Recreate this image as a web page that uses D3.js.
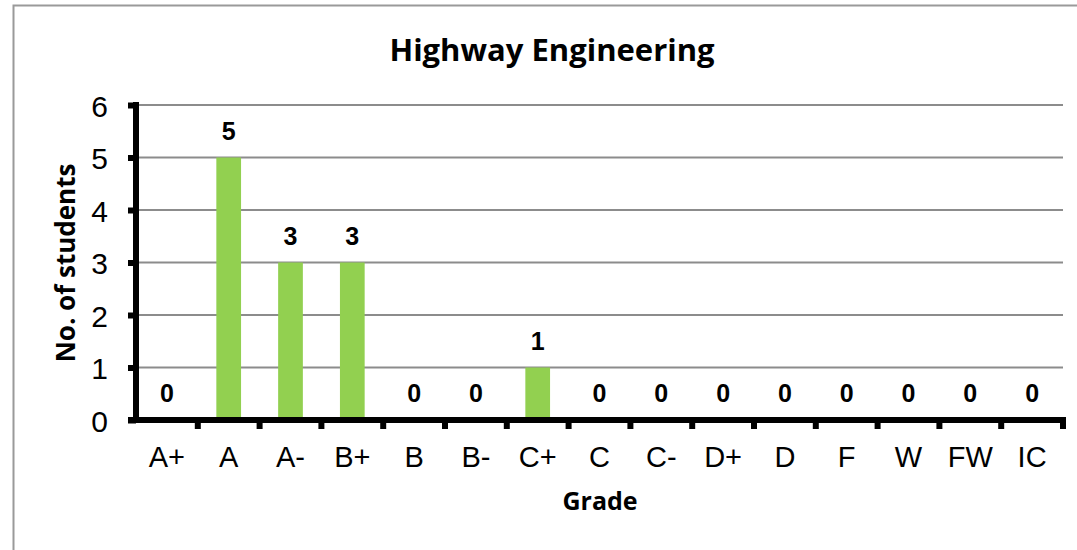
<!DOCTYPE html>
<html><head><meta charset="utf-8">
<script src="https://cdn.jsdelivr.net/npm/d3@7"></script>
<style>body{margin:0;background:#fff}svg{display:block}</style>
</head><body>
<script>
const categories = ["A+","A","A-","B+","B","B-","C+","C","C-","D+","D","F","W","FW","IC"];
const values = [0,5,3,3,0,0,1,0,0,0,0,0,0,0,0];
const yTicks = [0,1,2,3,4,5,6];
const title = "Highway Engineering";
const xTitle = "Grade";
const yTitle = "No. of students";

const W = 1077, H = 550;
const m = {left:136, right:1063, top:105, bottom:420};
const svg = d3.select("body").append("svg").attr("width",W).attr("height",H);
const ARIAL = "'Liberation Sans', Arial, sans-serif";
const CAL = "'Open Sans', sans-serif";

// outer frame
svg.append("path").attr("d",`M13.5,${H+2}V5.5H${W+2}`).attr("fill","none").attr("stroke","#9a9a9a").attr("stroke-width",2);

const x = d3.scaleBand().domain(categories).range([m.left,m.right]).paddingInner(0.6).paddingOuter(0.3);
const xb = d3.scaleLinear().domain([0,categories.length]).range([m.left,m.right]);
const y = d3.scaleLinear().domain([0,6]).range([m.bottom,m.top]);

// gridlines
svg.append("g").selectAll("line").data(yTicks.filter(d=>d>0)).join("line")
  .attr("x1",m.left).attr("x2",m.right).attr("y1",d=>y(d)).attr("y2",d=>y(d))
  .attr("stroke","#8c8c8c").attr("stroke-width",2);

// bars
svg.append("g").selectAll("rect").data(values).join("rect")
  .attr("x",(d,i)=>x(categories[i])).attr("width",x.bandwidth())
  .attr("y",d=>y(d)).attr("height",d=>y(0)-y(d)).attr("fill","#92d050");

// data labels
svg.append("g").selectAll("text").data(values).join("text")
  .attr("x",(d,i)=>x(categories[i])+x.bandwidth()/2).attr("y",d=>y(d)-18)
  .attr("text-anchor","middle").style("font-family",ARIAL)
  .style("font-weight","bold").style("font-size","25px").attr("fill","#000").text(d=>d);

// y axis
const yAxis = svg.append("g").attr("transform",`translate(${m.left},0)`)
  .call(d3.axisLeft(y).tickValues(yTicks).tickFormat(d3.format("d")).tickSize(8).tickPadding(20).tickSizeOuter(0));
yAxis.select(".domain").attr("stroke","#000").attr("stroke-width",6).attr("d",`M0,${m.top-3}V${m.bottom+3}`);
yAxis.selectAll(".tick line").attr("stroke","#000").attr("stroke-width",6);
yAxis.selectAll(".tick text").style("font-family",ARIAL).style("font-size","30px").attr("fill","#000").attr("dy","0.37em");

// x axis
const xAxis = svg.append("g").attr("transform",`translate(0,${m.bottom})`)
  .call(d3.axisBottom(x).tickSize(0).tickPadding(26).tickSizeOuter(0));
xAxis.select(".domain").attr("stroke","#000").attr("stroke-width",6).attr("d",`M${m.left-3},0H${m.right+3}`);
xAxis.selectAll(".tick text").style("font-family",ARIAL).style("font-size","29px").attr("fill","#000").attr("dy","0.71em");
svg.append("g").selectAll("line").data(d3.range(1,categories.length+1)).join("line")
  .attr("x1",d=>xb(d)).attr("x2",d=>xb(d)).attr("y1",m.bottom).attr("y2",m.bottom+9)
  .attr("stroke","#000").attr("stroke-width",6);
svg.append("line").attr("x1",m.left-8).attr("x2",m.left).attr("y1",m.bottom).attr("y2",m.bottom).attr("stroke","#000").attr("stroke-width",6);

// titles
svg.append("text").attr("x",552).attr("y",61).attr("text-anchor","middle")
  .style("font-family",CAL).style("font-weight","bold").style("font-size","31px").attr("fill","#000").text(title);
svg.append("text").attr("x",600).attr("y",510).attr("text-anchor","middle")
  .style("font-family",CAL).style("font-weight","bold").style("font-size","25px").attr("fill","#000").text(xTitle);
svg.append("text").attr("transform","translate(75,263) rotate(-90)").attr("text-anchor","middle")
  .style("font-family",CAL).style("font-weight","bold").style("font-size","26px").attr("fill","#000").text(yTitle);
</script>
</body></html>
